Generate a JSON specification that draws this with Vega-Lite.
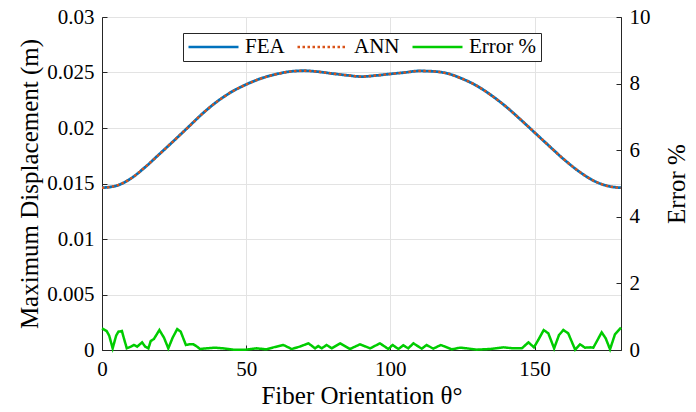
{
  "$schema": "https://vega.github.io/schema/vega-lite/v6.json",
  "width": 519,
  "height": 333,
  "autosize": {"type": "none"},
  "padding": {"left": 102, "top": 17, "right": 75, "bottom": 62},
  "background": "white",
  "config": {
    "view": {"stroke": "#262626", "strokeWidth": 1},
    "font": "Liberation Serif",
    "axis": {
      "labelFont": "Liberation Serif",
      "titleFont": "Liberation Serif",
      "labelFontSize": 21,
      "titleFontSize": 25,
      "titleFontWeight": "normal",
      "labelColor": "#000000",
      "titleColor": "#000000",
      "domainColor": "#262626",
      "tickColor": "#262626",
      "gridColor": "#e3e3e3",
      "tickSize": -5,
      "labelPadding": 13,
      "labelFlush": false
    },
    "legend": {
      "symbolType": "stroke",
      "symbolSize": 2500,
      "symbolStrokeWidth": 2.5,
      "clipHeight": 20,
      "labelFont": "Liberation Serif",
      "labelFontSize": 21,
      "labelColor": "#000000",
      "strokeColor": "#262626",
      "fillColor": "white",
      "padding": 4,
      "columnPadding": 11,
      "labelOffset": 5,
      "labelLimit": 300
    }
  },
  "datasets": {
    "fea": [
      {"t": 0, "s": "FEA", "v": 0.01462},
      {"t": 5, "s": "FEA", "v": 0.0148},
      {"t": 10, "s": "FEA", "v": 0.01545},
      {"t": 15, "s": "FEA", "v": 0.01648},
      {"t": 20, "s": "FEA", "v": 0.01767},
      {"t": 25, "s": "FEA", "v": 0.01887},
      {"t": 30, "s": "FEA", "v": 0.0201},
      {"t": 35, "s": "FEA", "v": 0.02133},
      {"t": 40, "s": "FEA", "v": 0.0224},
      {"t": 45, "s": "FEA", "v": 0.02326},
      {"t": 50, "s": "FEA", "v": 0.02392},
      {"t": 55, "s": "FEA", "v": 0.02445},
      {"t": 60, "s": "FEA", "v": 0.02482},
      {"t": 65, "s": "FEA", "v": 0.02508},
      {"t": 70, "s": "FEA", "v": 0.02516},
      {"t": 75, "s": "FEA", "v": 0.02507},
      {"t": 80, "s": "FEA", "v": 0.0249},
      {"t": 85, "s": "FEA", "v": 0.02475},
      {"t": 90, "s": "FEA", "v": 0.02463},
      {"t": 95, "s": "FEA", "v": 0.02473},
      {"t": 100, "s": "FEA", "v": 0.02487},
      {"t": 105, "s": "FEA", "v": 0.025},
      {"t": 110, "s": "FEA", "v": 0.02514},
      {"t": 115, "s": "FEA", "v": 0.0251},
      {"t": 120, "s": "FEA", "v": 0.0249},
      {"t": 125, "s": "FEA", "v": 0.02443},
      {"t": 130, "s": "FEA", "v": 0.0238},
      {"t": 135, "s": "FEA", "v": 0.02295},
      {"t": 140, "s": "FEA", "v": 0.02195},
      {"t": 145, "s": "FEA", "v": 0.0208},
      {"t": 150, "s": "FEA", "v": 0.0196},
      {"t": 155, "s": "FEA", "v": 0.0184},
      {"t": 160, "s": "FEA", "v": 0.01722},
      {"t": 165, "s": "FEA", "v": 0.01617},
      {"t": 170, "s": "FEA", "v": 0.01532},
      {"t": 175, "s": "FEA", "v": 0.0148},
      {"t": 180, "s": "FEA", "v": 0.01462}
    ],
    "ann": [
      {"t": 0, "s": "ANN", "v": 0.01461},
      {"t": 5, "s": "ANN", "v": 0.01481},
      {"t": 10, "s": "ANN", "v": 0.01544},
      {"t": 15, "s": "ANN", "v": 0.01649},
      {"t": 20, "s": "ANN", "v": 0.01766},
      {"t": 25, "s": "ANN", "v": 0.01888},
      {"t": 30, "s": "ANN", "v": 0.02009},
      {"t": 35, "s": "ANN", "v": 0.02133},
      {"t": 40, "s": "ANN", "v": 0.0224},
      {"t": 45, "s": "ANN", "v": 0.02326},
      {"t": 50, "s": "ANN", "v": 0.02392},
      {"t": 55, "s": "ANN", "v": 0.02445},
      {"t": 60, "s": "ANN", "v": 0.02482},
      {"t": 65, "s": "ANN", "v": 0.02508},
      {"t": 70, "s": "ANN", "v": 0.02516},
      {"t": 75, "s": "ANN", "v": 0.02507},
      {"t": 80, "s": "ANN", "v": 0.0249},
      {"t": 85, "s": "ANN", "v": 0.02475},
      {"t": 90, "s": "ANN", "v": 0.02463},
      {"t": 95, "s": "ANN", "v": 0.02473},
      {"t": 100, "s": "ANN", "v": 0.02487},
      {"t": 105, "s": "ANN", "v": 0.025},
      {"t": 110, "s": "ANN", "v": 0.02514},
      {"t": 115, "s": "ANN", "v": 0.0251},
      {"t": 120, "s": "ANN", "v": 0.0249},
      {"t": 125, "s": "ANN", "v": 0.02443},
      {"t": 130, "s": "ANN", "v": 0.0238},
      {"t": 135, "s": "ANN", "v": 0.02295},
      {"t": 140, "s": "ANN", "v": 0.02195},
      {"t": 145, "s": "ANN", "v": 0.0208},
      {"t": 150, "s": "ANN", "v": 0.0196},
      {"t": 155, "s": "ANN", "v": 0.0184},
      {"t": 160, "s": "ANN", "v": 0.01722},
      {"t": 165, "s": "ANN", "v": 0.01617},
      {"t": 170, "s": "ANN", "v": 0.01532},
      {"t": 175, "s": "ANN", "v": 0.0148},
      {"t": 180, "s": "ANN", "v": 0.01461}
    ],
    "err": [
      {"t": 0, "s": "Error %", "v": 0.65},
      {"t": 1.6, "s": "Error %", "v": 0.57},
      {"t": 2.5, "s": "Error %", "v": 0.43},
      {"t": 3.7, "s": "Error %", "v": 0.05},
      {"t": 4.9, "s": "Error %", "v": 0.43},
      {"t": 5.7, "s": "Error %", "v": 0.55},
      {"t": 6.9, "s": "Error %", "v": 0.57},
      {"t": 7.6, "s": "Error %", "v": 0.35},
      {"t": 8.6, "s": "Error %", "v": 0.05},
      {"t": 10, "s": "Error %", "v": 0.1},
      {"t": 11.1, "s": "Error %", "v": 0.15},
      {"t": 12.2, "s": "Error %", "v": 0.1},
      {"t": 13.9, "s": "Error %", "v": 0.23},
      {"t": 15, "s": "Error %", "v": 0.1},
      {"t": 16.1, "s": "Error %", "v": 0.05},
      {"t": 16.9, "s": "Error %", "v": 0.27},
      {"t": 18, "s": "Error %", "v": 0.33},
      {"t": 19.9, "s": "Error %", "v": 0.6},
      {"t": 21.5, "s": "Error %", "v": 0.37},
      {"t": 23, "s": "Error %", "v": 0.05},
      {"t": 24.5, "s": "Error %", "v": 0.37},
      {"t": 26.1, "s": "Error %", "v": 0.63},
      {"t": 27.3, "s": "Error %", "v": 0.55},
      {"t": 29.1, "s": "Error %", "v": 0.15},
      {"t": 30.3, "s": "Error %", "v": 0.17},
      {"t": 31.7, "s": "Error %", "v": 0.17},
      {"t": 33, "s": "Error %", "v": 0.1},
      {"t": 34, "s": "Error %", "v": 0.03},
      {"t": 36.3, "s": "Error %", "v": 0.05},
      {"t": 39.2, "s": "Error %", "v": 0.07},
      {"t": 42, "s": "Error %", "v": 0.05},
      {"t": 45.5, "s": "Error %", "v": 0.01},
      {"t": 49.8, "s": "Error %", "v": 0.01},
      {"t": 53.6, "s": "Error %", "v": 0.05},
      {"t": 57.1, "s": "Error %", "v": 0.02},
      {"t": 59.5, "s": "Error %", "v": 0.08},
      {"t": 62.9, "s": "Error %", "v": 0.15},
      {"t": 65.8, "s": "Error %", "v": 0.03},
      {"t": 68.5, "s": "Error %", "v": 0.1},
      {"t": 71.6, "s": "Error %", "v": 0.2},
      {"t": 73.9, "s": "Error %", "v": 0.05},
      {"t": 75, "s": "Error %", "v": 0.12},
      {"t": 76.2, "s": "Error %", "v": 0.05},
      {"t": 77.9, "s": "Error %", "v": 0.15},
      {"t": 79.7, "s": "Error %", "v": 0.05},
      {"t": 82.6, "s": "Error %", "v": 0.2},
      {"t": 86, "s": "Error %", "v": 0.03},
      {"t": 89.5, "s": "Error %", "v": 0.17},
      {"t": 93, "s": "Error %", "v": 0.05},
      {"t": 96.4, "s": "Error %", "v": 0.2},
      {"t": 99.3, "s": "Error %", "v": 0.03},
      {"t": 100.8, "s": "Error %", "v": 0.15},
      {"t": 102.8, "s": "Error %", "v": 0.03},
      {"t": 104.5, "s": "Error %", "v": 0.14},
      {"t": 106.2, "s": "Error %", "v": 0.05},
      {"t": 108, "s": "Error %", "v": 0.2},
      {"t": 110.9, "s": "Error %", "v": 0.04},
      {"t": 112.6, "s": "Error %", "v": 0.15},
      {"t": 114.9, "s": "Error %", "v": 0.04},
      {"t": 117.5, "s": "Error %", "v": 0.15},
      {"t": 119, "s": "Error %", "v": 0.1},
      {"t": 121.3, "s": "Error %", "v": 0.02},
      {"t": 124.2, "s": "Error %", "v": 0.07},
      {"t": 126.5, "s": "Error %", "v": 0.05},
      {"t": 130, "s": "Error %", "v": 0.01},
      {"t": 134.6, "s": "Error %", "v": 0.03},
      {"t": 139.2, "s": "Error %", "v": 0.08},
      {"t": 142.7, "s": "Error %", "v": 0.05},
      {"t": 145.6, "s": "Error %", "v": 0.05},
      {"t": 147.9, "s": "Error %", "v": 0.23},
      {"t": 149.8, "s": "Error %", "v": 0.08},
      {"t": 151.3, "s": "Error %", "v": 0.3},
      {"t": 153.2, "s": "Error %", "v": 0.6},
      {"t": 154.8, "s": "Error %", "v": 0.5},
      {"t": 156.8, "s": "Error %", "v": 0.05},
      {"t": 158.5, "s": "Error %", "v": 0.45},
      {"t": 160, "s": "Error %", "v": 0.6},
      {"t": 161.7, "s": "Error %", "v": 0.5},
      {"t": 164.1, "s": "Error %", "v": 0.01},
      {"t": 165.8, "s": "Error %", "v": 0.17},
      {"t": 167.5, "s": "Error %", "v": 0.07},
      {"t": 169.3, "s": "Error %", "v": 0.08},
      {"t": 170.4, "s": "Error %", "v": 0.07},
      {"t": 173.3, "s": "Error %", "v": 0.53},
      {"t": 174.7, "s": "Error %", "v": 0.35},
      {"t": 176.2, "s": "Error %", "v": 0.02},
      {"t": 177.9, "s": "Error %", "v": 0.47},
      {"t": 180, "s": "Error %", "v": 0.67}
    ]
  },
  "layer": [
    {
      "layer": [
        {
          "data": {"name": "fea"},
          "mark": {"type": "line", "strokeWidth": 2.8, "interpolate": "monotone"},
          "encoding": {
            "x": {"field": "t", "type": "quantitative", "scale": {"domain": [0, 180], "nice": false},
              "axis": {"values": [0, 50, 100, 150], "title": "Fiber Orientation θ°", "grid": true}},
            "y": {"field": "v", "type": "quantitative", "scale": {"domain": [0, 0.03], "nice": false},
              "axis": {"orient": "left", "values": [0, 0.005, 0.01, 0.015, 0.02, 0.025, 0.03], "format": ".3~f", "title": "Maximum Displacement (m)", "grid": true}},
            "color": {"field": "s", "type": "nominal",
              "scale": {"domain": ["FEA", "ANN", "Error %"], "range": ["#0072BD", "#D95319", "#00CC00"]},
              "legend": {"title": null, "orient": "none", "legendX": 81, "legendY": 16, "direction": "horizontal"}},
            "strokeDash": {"field": "s", "type": "nominal",
              "scale": {"domain": ["FEA", "ANN", "Error %"], "range": [[1, 0], [2.5, 2.5], [1, 0]]},
              "legend": {"title": null, "orient": "none", "legendX": 81, "legendY": 16, "direction": "horizontal"}}
          }
        },
        {
          "data": {"name": "ann"},
          "mark": {"type": "line", "strokeWidth": 2.4, "interpolate": "monotone"},
          "encoding": {
            "x": {"field": "t", "type": "quantitative"},
            "y": {"field": "v", "type": "quantitative"},
            "color": {"field": "s", "type": "nominal",
              "legend": {"title": null, "orient": "none", "legendX": 81, "legendY": 16, "direction": "horizontal"}},
            "strokeDash": {"field": "s", "type": "nominal",
              "legend": {"title": null, "orient": "none", "legendX": 81, "legendY": 16, "direction": "horizontal"}}
          }
        }
      ]
    },
    {
      "data": {"name": "err"},
      "mark": {"type": "line", "strokeWidth": 2.5},
      "encoding": {
        "x": {"field": "t", "type": "quantitative"},
        "y": {"field": "v", "type": "quantitative", "scale": {"domain": [0, 10], "nice": false},
          "axis": {"orient": "right", "values": [0, 2, 4, 6, 8, 10], "title": "Error %", "grid": false, "titleAngle": 270, "titleBaseline": "top", "titlePadding": 14}},
        "color": {"field": "s", "type": "nominal",
          "legend": {"title": null, "orient": "none", "legendX": 81, "legendY": 16, "direction": "horizontal"}},
        "strokeDash": {"field": "s", "type": "nominal",
          "legend": {"title": null, "orient": "none", "legendX": 81, "legendY": 16, "direction": "horizontal"}}
      }
    }
  ],
  "resolve": {"scale": {"y": "independent"}}
}
